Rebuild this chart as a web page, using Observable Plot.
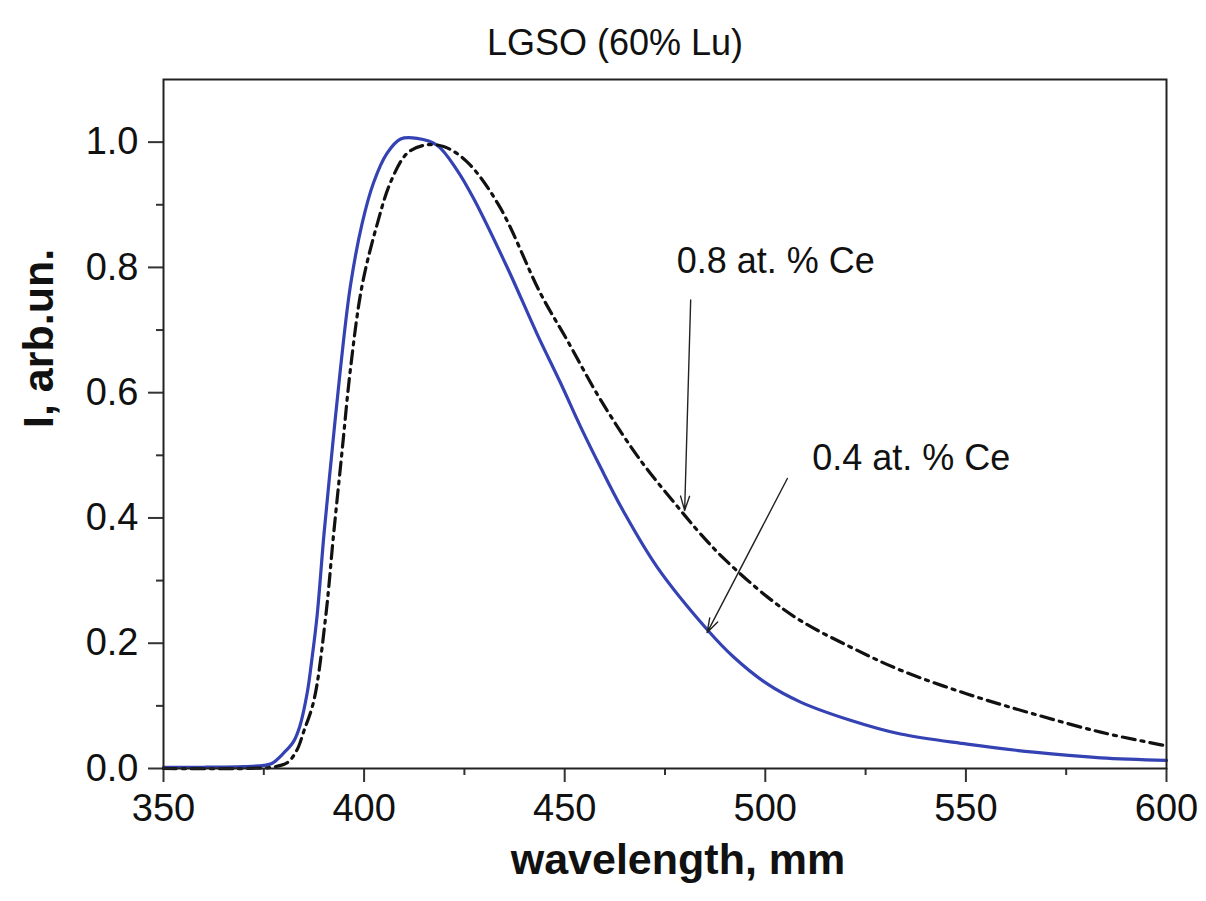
<!DOCTYPE html>
<html>
<head>
<meta charset="utf-8">
<script src="https://cdn.jsdelivr.net/npm/d3@7"></script>
<script src="https://cdn.jsdelivr.net/npm/@observablehq/plot@0.6"></script>
<style>
  html, body { margin: 0; padding: 0; background: #fff; }
</style>
</head>
<body>
<div id="chart"></div>
<script>
// ---- data ----
const title = "LGSO (60% Lu)";
const xLabel = "wavelength, mm";
const yLabel = "I, arb.un.";

// 0.4 at.% Ce (blue solid)
const wl04 = [350, 360, 370, 375, 377, 380, 382.4, 384, 385.8, 387, 388.3, 390, 392, 394.1, 396.6, 399.5, 402.4, 405.7, 409.1, 413.2, 418.2, 423.2, 427.3, 435.6, 443.1, 449.0, 454.0, 459.0, 464.7, 473.0, 485.5, 492.1, 500.5, 508.8, 521.2, 533.7, 550.3, 566.9, 583.6, 600];
const I04  = [0.002, 0.002, 0.003, 0.005, 0.008, 0.025, 0.043, 0.068, 0.12, 0.175, 0.245, 0.374, 0.506, 0.638, 0.771, 0.870, 0.936, 0.982, 1.005, 1.006, 0.995, 0.955, 0.91, 0.801, 0.694, 0.615, 0.545, 0.480, 0.410, 0.322, 0.222, 0.178, 0.135, 0.106, 0.077, 0.055, 0.039, 0.026, 0.017, 0.013];

// 0.8 at.% Ce (black dash-dot)
const wl08 = [350, 370, 378, 381, 383.3, 385, 387.5, 390.4, 392.4, 394.5, 396.6, 399.5, 403.3, 406.6, 410.7, 415, 419.8, 425.6, 433.6, 444.0, 450.6, 459.0, 468.9, 478.9, 483.8, 489.7, 500.5, 508.8, 521.2, 533.7, 550.3, 566.9, 583.6, 597.7, 600];
const I08  = [0.0, 0.0, 0.003, 0.01, 0.03, 0.06, 0.109, 0.241, 0.374, 0.506, 0.638, 0.771, 0.870, 0.936, 0.982, 0.995, 0.993, 0.969, 0.899, 0.758, 0.684, 0.588, 0.492, 0.412, 0.375, 0.335, 0.274, 0.236, 0.194, 0.157, 0.119, 0.087, 0.058, 0.039, 0.036];

const xTicks = [350, 400, 450, 500, 550, 600];
const xMinor = [375, 425, 475, 525, 575];
const yTicks = [0, 0.2, 0.4, 0.6, 0.8, 1.0];
const yMinor = [0.1, 0.3, 0.5, 0.7, 0.9];

// annotations
const annoLabels = ["0.8 at. % Ce", "0.4 at. % Ce"];
const annoX = [477.9, 511.7];
const annoY = [0.791, 0.476];
const arrowX1 = [481.4, 505.5];
const arrowY1 = [0.748, 0.463];
const arrowX2 = [479.9, 485.5];
const arrowY2 = [0.412, 0.217];

// ---- build tables ----
const s04 = wl04.map((w, i) => ({w, I: I04[i]}));
const s08 = wl08.map((w, i) => ({w, I: I08[i]}));
const annos = annoLabels.map((t, i) => ({t, x: annoX[i], y: annoY[i]}));
const arrows = arrowX1.map((x1, i) => ({x1, y1: arrowY1[i], x2: arrowX2[i], y2: arrowY2[i]}));

const font = "'Liberation Sans', Arial, Helvetica, sans-serif";

const plot = Plot.plot({
  width: 1206,
  height: 901,
  marginLeft: 163,
  marginRight: 40,
  marginTop: 79,
  marginBottom: 133,
  style: {fontFamily: font, fontSize: "38px", color: "#111", background: "#fff"},
  x: {domain: [350, 600]},
  y: {domain: [0, 1.1]},
  marks: [
    Plot.axisX({ticks: xTicks, tickSize: 14, tickPadding: 12, tickFormat: d3.format("d"), label: null, fontSize: 38, strokeWidth: 2, stroke: "#333"}),
    Plot.axisX({ticks: xMinor, tickSize: 7, text: null, label: null, strokeWidth: 2, stroke: "#333"}),
    Plot.axisY({ticks: yTicks, tickSize: 15, tickPadding: 10, tickFormat: d3.format(".1f"), label: null, fontSize: 38, strokeWidth: 2, stroke: "#333"}),
    Plot.axisY({ticks: yMinor, tickSize: 7, text: null, label: null, strokeWidth: 2, stroke: "#333"}),
    Plot.line(s04, {x: "w", y: "I", stroke: "#3442b3", strokeWidth: 3.2, curve: "catmull-rom"}),
    Plot.line(s08, {x: "w", y: "I", stroke: "#111", strokeWidth: 3.2, strokeDasharray: "13,6,3,6", curve: "catmull-rom"}),
    Plot.arrow(arrows, {x1: "x1", y1: "y1", x2: "x2", y2: "y2", stroke: "#222", strokeWidth: 1.4, headLength: 16, headAngle: 35}),
    Plot.text(annos, {x: "x", y: "y", text: "t", textAnchor: "start", lineAnchor: "bottom", fontSize: 36, fill: "#111"}),
    Plot.text([title], {frameAnchor: "top", text: d => d, dx: -50, dy: -25, lineAnchor: "bottom", fontSize: 36, fill: "#111"}),
    Plot.text([xLabel], {frameAnchor: "bottom", text: d => d, dx: 13, dy: 105, lineAnchor: "bottom", fontSize: 43, fontWeight: "bold", fill: "#111"}),
    Plot.text([yLabel], {frameAnchor: "left", text: d => d, dx: -111, dy: 4, rotate: -90, lineAnchor: "bottom", fontSize: 43, fontWeight: "bold", fill: "#111"}),
    Plot.frame({stroke: "#222", strokeWidth: 2})
  ]
});
document.getElementById("chart").appendChild(plot);
</script>
</body>
</html>
